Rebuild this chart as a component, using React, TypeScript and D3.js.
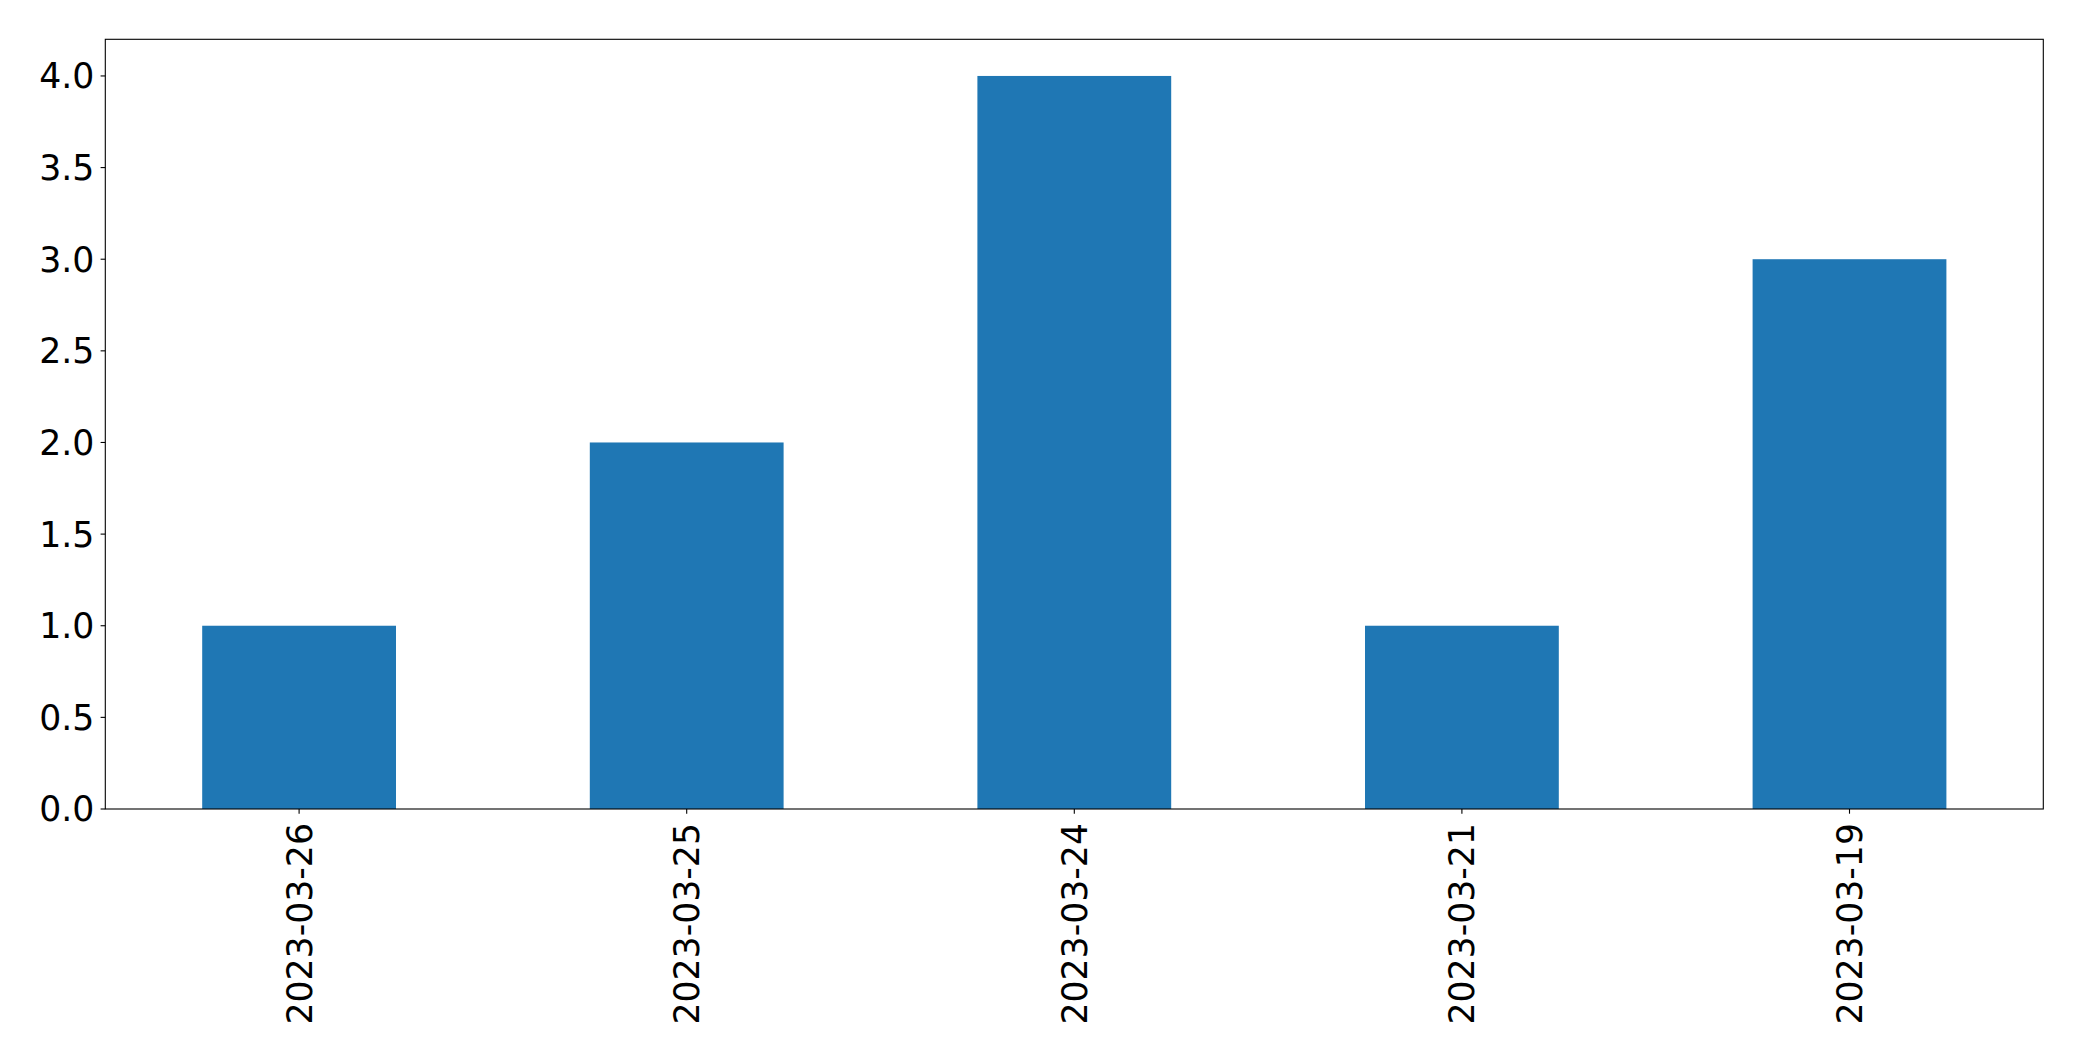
import React from "react";
import * as d3 from "d3";

const categories = ["2023-03-26", "2023-03-25", "2023-03-24", "2023-03-21", "2023-03-19"];
const values = [1, 2, 4, 1, 3];
const yTicks = [0, 0.5, 1, 1.5, 2, 2.5, 3, 3.5, 4];

const W = 2082;
const H = 1061;
const left = 105.3;
const right = 2043.3;
const top = 39.3;
const bottom = 809;
const FONT = "'DejaVu Sans', sans-serif";
const FS = 34.7;

export default function App() {
  const x = d3.scaleBand<string>().domain(categories).range([left, right]).paddingInner(0.5).paddingOuter(0.25);
  const y = d3.scaleLinear().domain([0, 4.2]).range([bottom, top]);
  return (
    <svg width={W} height={H} style={{ position: "absolute", left: 0, top: 0, background: "#fff" }}>
      <rect x={0} y={0} width={W} height={H} fill="#fff" />
      {categories.map((c, i) => (
        <rect key={c} x={x(c)} y={y(values[i])} width={x.bandwidth()} height={y(0) - y(values[i])} fill="#1f77b4" />
      ))}
      <rect x={left} y={top} width={right - left} height={bottom - top} fill="none" stroke="#000" strokeWidth={1.1} />
      {yTicks.map((t) => (
        <g key={t}>
          <line x1={left - 4.7} x2={left} y1={y(t)} y2={y(t)} stroke="#000" strokeWidth={1.1} />
          <text x={left - 11} y={y(t)} dy="0.36em" textAnchor="end" fontFamily={FONT} fontSize={FS} fill="#000">
            {t.toFixed(1)}
          </text>
        </g>
      ))}
      {categories.map((c) => {
        const cx = (x(c) as number) + x.bandwidth() / 2;
        return (
          <g key={c}>
            <line x1={cx} x2={cx} y1={bottom} y2={bottom + 4.7} stroke="#000" strokeWidth={1.1} />
            <text
              transform={`translate(${cx},${bottom + 14}) rotate(-90)`}
              textAnchor="end"
              dy="0.36em"
              fontFamily={FONT}
              fontSize={FS}
              fill="#000"
            >
              {c}
            </text>
          </g>
        );
      })}
    </svg>
  );
}
